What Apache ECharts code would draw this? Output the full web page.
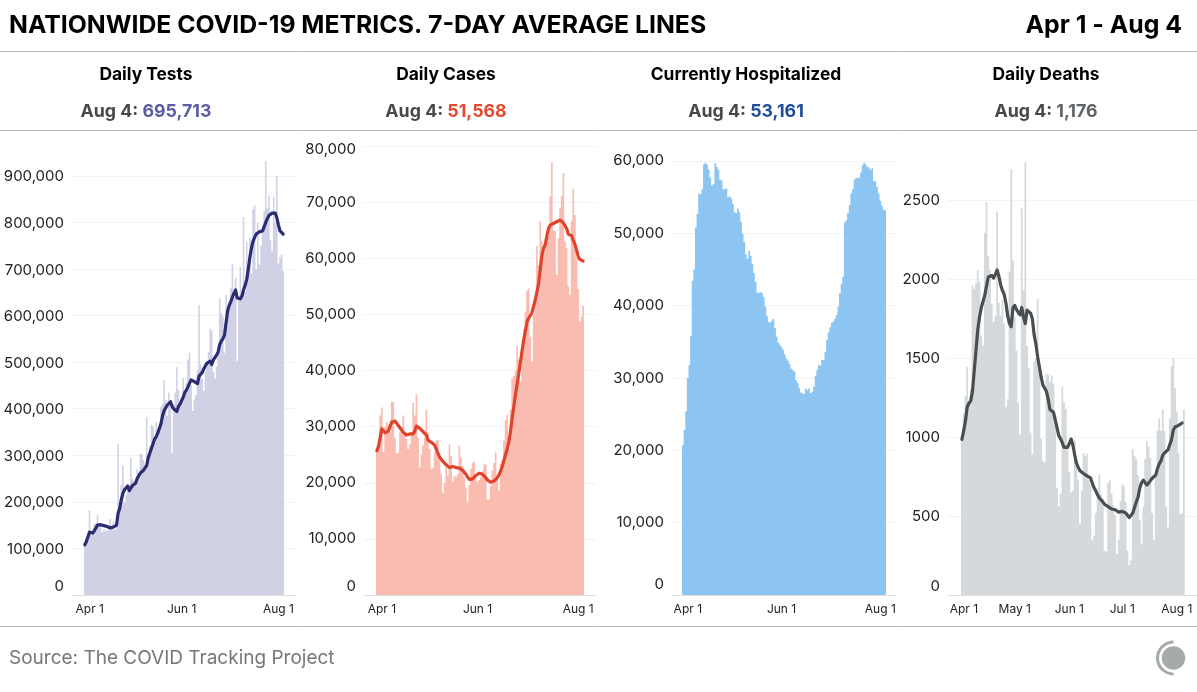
<!DOCTYPE html>
<html>
<head>
<meta charset="utf-8">
<style>html,body{margin:0;padding:0;background:#fff}#chart{width:1197px;height:692px}</style>
<script src="https://cdn.jsdelivr.net/npm/echarts@6/dist/echarts.min.js"></script>
</head>
<body>
<div id="chart"></div>
<script>
// Days are indexed from Apr 1 (index 0) to Aug 4 (index 125).
const monthTicks = { 0: 'Apr 1', 30: 'May 1', 61: 'Jun 1', 91: 'Jul 1', 122: 'Aug 1' };

const testsDaily = [105,118,125,182,130,135,152,155,172,150,148,135,142,137,140,138,163,142,158,140,150,325,190,237,278,198,215,222,235,295,250,245,240,270,262,303,302,290,280,382,300,320,365,362,340,372,350,360,405,410,462,418,385,435,418,305,410,435,490,440,415,425,466,440,455,505,520,450,395,420,430,483,622,495,465,438,480,490,522,572,568,480,465,490,525,637,605,598,520,645,620,630,660,712,640,680,503,635,705,640,812,650,758,690,768,690,828,837,700,800,710,750,780,825,932,830,858,762,738,855,800,900,712,725,732,695.713].map(v => v * 1000);
const testsAverage = [108,115,125,135,135,133,138,142,150,154,151,150,149,148,147,146,144,144,146,148,150,176,186,205,218,226,228,234,224,228,235,234,240,250,256,262,266,268,272,278,295,305,315,325,335,340,348,351,368,385,396,402,408,410,415,405,400,396,394,405,410,410,425,435,440,447,455,462,460,458,455,454,470,472,478,486,492,498,500,502,495,505,510,515,522,538,545,550,558,585,610,622,630,640,648,655,638,636,636,642,655,665,677,700,725,745,760,768,775,779,780,779,782,785,800,808,815,817,820,822,820,810,795,782,778,775].map(v => v * 1000);

const casesDaily = [25.7,26.5,32,33.4,25.5,30,30.8,30.2,29,34.4,34.4,28,25.2,25.4,29,30,32,28.5,27.8,26,26.8,29,34.2,32,35.8,28,22.7,25,26.7,28,33,29,26,22.5,22.6,25.5,27.5,27.6,24,21.5,18.2,20,22.8,21.3,26.8,24.8,20.2,21.2,21,21.5,26.6,24.5,23,21,19,16.6,19.6,22.5,23.5,23.7,20.8,20.2,20.5,21,22,23.3,23.2,17,17,19.5,22.2,23.5,25.4,21.2,18.6,23.4,24,27.5,31.2,32.1,26,33,38.6,39,40,44.4,41.9,38,44,47.4,50.5,54.2,54.6,46,41.6,50,52,62.2,58.8,66.6,63,61,62,64.8,65.3,71,77.1,65,64.8,57,63.5,69,71.1,75.2,63,61.8,55,53.5,66.7,72.4,67.7,60,54.5,48.7,49.6,51.568].map(v => v * 1000);
const casesAverage = [25.7,26.5,28,29.6,29.3,28.9,28.8,29.2,30,30.8,31,31,30.7,30.2,29.8,29.4,29,28.7,28.5,28.6,28.7,28.6,28.7,29.2,30.1,30,29.7,29.4,29.1,28.8,28.5,27.6,27.5,27.2,26.9,26.7,26,25.3,24.6,24.2,23.8,23.5,23.2,22.9,22.7,22.8,22.9,22.8,22.7,22.7,22.6,22.4,22.2,21.9,21.5,21,20.6,20.4,20.7,21,21.3,21.6,21.7,21.6,21.5,21.3,20.9,20.5,20.2,20.1,20.2,20.3,20.5,20.9,21.4,22.1,22.9,24,25,26,27.3,29.2,31.5,33.6,35.7,37.6,39.5,41.5,43.5,45.5,47,48.7,49.3,49.8,50.3,51.5,52.6,54,55.5,58,60.5,61.8,62.4,64,65.3,65.9,66.1,66.2,66.2,66.5,66.7,66.8,66.6,66.3,66,65.3,64.3,64.1,64,63.2,62.5,61.5,60.3,59.8,59.5,59.5].map(v => v * 1000);

const hospitalized = [20.7,22.8,25.4,30,31.8,35.8,43.4,45,50.8,52.7,55.5,55.4,56.1,59.5,59.8,59.5,58.8,57.7,56.6,56.8,59.7,59.2,58.8,57.4,57.3,56.1,56.1,56.2,55,55.1,54.8,54.1,52.9,52.8,53.4,52.9,51.6,49.9,48.8,47.1,46.5,47.6,46.9,45.8,44.5,43.3,41.8,41.8,41.9,41.7,41.2,39.9,38.6,37.7,37.7,37.9,38.2,36.9,35.7,34.9,34.6,34.3,33.9,33.3,32.7,32.4,31.9,31.3,31.1,30.9,29.7,29.3,28.6,28,27.9,27.8,28.6,28.3,28.6,27.9,28.1,28.8,30.3,31.1,31.8,31.7,32.5,32.5,33.6,35.3,36.3,37,37.6,37.8,38.2,38.7,39.9,41.7,43,44,51.5,51.8,52.8,53.9,55.5,56.1,57.4,57.7,57.7,57.7,58.4,59.4,59.8,59.5,59.2,59.1,58.8,59,57.2,57.2,56.4,55.5,54.5,53.8,53.3,53.161].map(v => v * 1000);

const deathsDaily = [990,1150,1260,1445,1230,1300,1960,1940,1975,2060,1985,1640,1580,2295,2490,2150,2060,1845,1730,1770,2430,1850,1770,1870,1720,1190,1240,2050,2700,2120,1760,1550,1215,1015,2450,1930,2740,1580,1440,1030,890,1480,1500,1875,1450,990,850,840,1400,1395,1350,1390,1340,1090,680,560,640,1320,1220,1180,920,780,650,660,980,870,730,450,660,900,880,895,730,700,345,375,520,620,765,640,610,280,275,710,725,640,570,510,260,350,595,700,690,590,280,190,220,925,880,860,760,475,320,560,860,975,940,870,520,350,760,1040,1120,1040,1175,1040,560,430,1120,1450,1500,1310,1160,900,510,520,1176];
const deathsAverage = [986,1040,1100,1190,1215,1230,1290,1420,1550,1680,1760,1820,1860,1900,1960,2015,2026,2025,2008,2030,2060,2020,1965,1930,1905,1850,1770,1720,1700,1820,1835,1810,1790,1775,1822,1760,1720,1805,1808,1785,1750,1650,1590,1510,1445,1380,1330,1310,1290,1240,1175,1165,1158,1110,1060,1010,990,965,935,930,935,960,988,950,890,835,810,787,775,770,760,755,750,742,710,680,660,635,615,605,590,575,570,560,555,545,538,540,530,525,522,530,532,520,505,490,481,520,555,590,620,680,712,728,722,697,710,725,740,748,760,800,830,850,885,900,910,920,930,985,1045,1065,1072,1075,1080,1090];

const FONT = 'Inter, "Noto Sans", sans-serif';

// One entry per small multiple: frame, scale limits, colours and label nudges (px, + is down).
const panels = [
  { name: 'Daily Tests', latest: '695,713', latestColor: '#5c5ca6', center: 146,
    left: 72, right: 296, top: 161, xMin: -8.06, xMax: 133.06, yMax: 932000, yStep: 100000,
    bars: testsDaily, line: testsAverage, barColor: '#d1d1e6', lineColor: '#2b2d73',
    ticks: [0, 61, 122], firstPad: 10, baseNudge: 1, nudges: { 0: -9 } },
  { name: 'Daily Cases', latest: '51,568', latestColor: '#e5492f', center: 446,
    left: 364, right: 596, top: 146, xMin: -7.77, xMax: 132.77, yMax: 80000, yStep: 10000,
    bars: casesDaily, line: casesAverage, barColor: '#fabcb1', lineColor: '#e0432c',
    ticks: [0, 61, 122], firstPad: 10, baseNudge: 0, nudges: { 0: -9, 80000: 3 } },
  { name: 'Currently Hospitalized', latest: '53,161', latestColor: '#1f4e9a', center: 746,
    left: 672, right: 896, top: 161, xMin: -6.68, xMax: 131.68, yMax: 60000, yStep: 10000,
    bars: hospitalized, line: null, barColor: '#8cc5f2', lineColor: null,
    ticks: [0, 61, 122], firstPad: 10, baseNudge: 0, nudges: { 0: -11, 60000: -1 } },
  { name: 'Daily Deaths', latest: '1,176', latestColor: '#5f6467', center: 1046,
    left: 948, right: 1197, top: 161, xMin: -7.88, xMax: 133.45, yMax: 2750, yStep: 500,
    bars: deathsDaily, line: deathsAverage, barColor: '#d5d9db', lineColor: '#4a4e51',
    ticks: [0, 30, 61, 91, 122], firstPad: 4, baseNudge: 0, nudges: { 0: -9 } }
];

const indexed = values => values.map((v, i) => [i, v]);

// Rich styles named by nudge amount; padding on one side moves a centred label by half of it.
function nudgeStyles() {
  const styles = {};
  for (let dy = -12; dy <= 4; dy++) {
    styles['n' + (dy + 20)] = {
      padding: dy >= 0 ? [2 * dy, 0, 0, 0] : [0, 0, -2 * dy, 0],
      fontFamily: FONT, fontSize: 15, color: '#222'
    };
  }
  return styles;
}

function yLabel(p, v) {
  const dy = p.nudges[v] !== undefined ? p.nudges[v] : p.baseNudge;
  const text = p.yStep === 500 ? String(v) : v.toLocaleString('en-US');
  return '{n' + (dy + 20) + '|' + text + '}';
}

const option = {
  animation: false,
  backgroundColor: '#fff',
  title: [
    { text: 'NATIONWIDE COVID-19 METRICS. 7-DAY AVERAGE LINES', left: 9, top: 13, padding: 0,
      textStyle: { fontFamily: FONT, fontSize: 24.8, fontWeight: 700, color: '#000' } },
    { text: 'Apr 1 - Aug 4', right: 15, top: 13, padding: 0,
      textStyle: { fontFamily: FONT, fontSize: 24.8, fontWeight: 700, color: '#000' } },
    { text: 'Source: The COVID Tracking Project', left: 9, top: 649, padding: 0,
      textStyle: { fontFamily: FONT, fontSize: 19, fontWeight: 400, color: '#777' } }
  ].concat(panels.flatMap(p => [
    { text: p.name, left: p.center, top: 66, padding: 0, textAlign: 'center',
      textStyle: { fontFamily: FONT, fontSize: 17.4, fontWeight: 700, color: '#000' } },
    { text: '{a|Aug 4: }{b|' + p.latest + '}', left: p.center, top: 103, padding: 0, textAlign: 'center',
      textStyle: { fontFamily: FONT, fontSize: 17.8, fontWeight: 700,
        rich: {
          a: { fontFamily: FONT, fontSize: 17.8, fontWeight: 700, color: '#484848' },
          b: { fontFamily: FONT, fontSize: 17.8, fontWeight: 700, color: p.latestColor }
        } } }
  ])),
  grid: panels.map(p => ({ left: p.left, width: p.right - p.left, top: p.top, height: 595 - p.top })),
  xAxis: panels.map((p, i) => ({
    type: 'value', gridIndex: i, min: p.xMin, max: p.xMax,
    splitLine: { show: false },
    axisTick: { show: false },
    axisLine: { show: true, onZero: false, lineStyle: { color: '#dedede', width: 1 } },
    axisLabel: {
      customValues: p.ticks, margin: 8, color: '#222', fontFamily: FONT, fontSize: 12,
      hideOverlap: false, showMinLabel: true, showMaxLabel: true,
      formatter: v => v === 0 ? '{first|' + monthTicks[v] + '}' : monthTicks[v],
      rich: { first: { padding: [0, 0, 0, p.firstPad], fontFamily: FONT, fontSize: 12, color: '#222' } }
    }
  })),
  yAxis: panels.map((p, i) => ({
    type: 'value', gridIndex: i, min: 0, max: p.yMax, interval: p.yStep,
    axisLine: { show: false }, axisTick: { show: false },
    splitLine: { show: true, showMinLine: false, showMaxLine: p.yMax % p.yStep === 0,
      lineStyle: { color: '#f3f3f3', width: 1 } },
    axisLabel: {
      margin: 8, color: '#222', fontFamily: FONT, fontSize: 15,
      showMaxLabel: p.yMax % p.yStep === 0,
      formatter: v => yLabel(p, v),
      rich: nudgeStyles()
    }
  })),
  series: panels.flatMap((p, i) => {
    const list = [{
      type: 'bar', name: p.name, xAxisIndex: i, yAxisIndex: i, data: indexed(p.bars),
      // Large mode fills all one-day bars as a single path, so no seams show between them.
      large: true, largeThreshold: 1,
      barWidth: (p.right - p.left) / (p.xMax - p.xMin),
      itemStyle: { color: p.barColor }, silent: true
    }];
    if (p.line) {
      list.push({
        type: 'line', name: p.name + ' 7-day average', xAxisIndex: i, yAxisIndex: i, data: indexed(p.line),
        showSymbol: false, symbol: 'none', z: 5, silent: true,
        lineStyle: { color: p.lineColor, width: 3.2, cap: 'round', join: 'round' }
      });
    }
    return list;
  }),
  // Header and footer rules plus the project mark in the corner.
  graphic: [
    { type: 'line', shape: { x1: 0, y1: 51.5, x2: 1197, y2: 51.5 }, style: { stroke: '#b8b8b8', lineWidth: 1 } },
    { type: 'line', shape: { x1: 0, y1: 130.5, x2: 1197, y2: 130.5 }, style: { stroke: '#b8b8b8', lineWidth: 1 } },
    { type: 'line', shape: { x1: 0, y1: 626.5, x2: 1197, y2: 626.5 }, style: { stroke: '#b8b8b8', lineWidth: 1 } },
    { type: 'circle', shape: { cx: 1173.5, cy: 658, r: 11.7 }, style: { fill: '#a6aaaa' } },
    { type: 'arc', shape: { cx: 1173.5, cy: 658, r: 16, startAngle: Math.PI * 0.5, endAngle: Math.PI * 1.5, clockwise: true },
      style: { stroke: '#a6aaaa', fill: 'none', lineWidth: 3 } }
  ]
};

echarts.init(document.getElementById('chart'), null, { renderer: 'canvas' }).setOption(option);
</script>
</body>
</html>
